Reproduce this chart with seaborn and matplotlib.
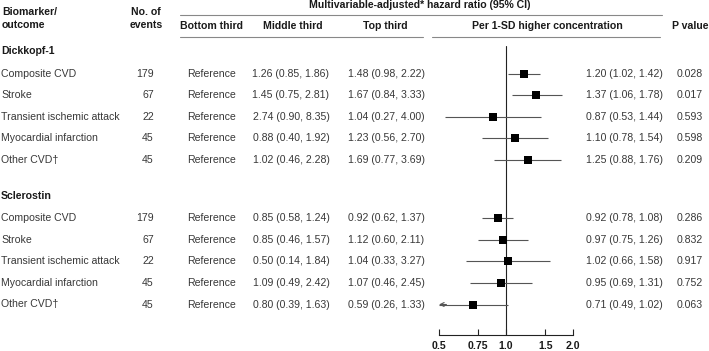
import pandas as pd
import matplotlib.pyplot as plt
from matplotlib.ticker import NullLocator
import seaborn as sns

# Datos de la tabla
biomarkers = ['Dickkopf-1', 'Sclerostin']
outcomes = ['Composite CVD', 'Stroke', 'Transient ischemic attack',
            'Myocardial infarction', 'Other CVD\u2020']
events = [179, 67, 22, 45, 45]

# (HR, lower, upper)
dkk_middle = [(1.26, 0.85, 1.86), (1.45, 0.75, 2.81), (2.74, 0.90, 8.35),
              (0.88, 0.40, 1.92), (1.02, 0.46, 2.28)]
dkk_top = [(1.48, 0.98, 2.22), (1.67, 0.84, 3.33), (1.04, 0.27, 4.00),
           (1.23, 0.56, 2.70), (1.69, 0.77, 3.69)]
dkk_sd = [(1.20, 1.02, 1.42), (1.37, 1.06, 1.78), (0.87, 0.53, 1.44),
          (1.10, 0.78, 1.54), (1.25, 0.88, 1.76)]
dkk_p = ['0.028', '0.017', '0.593', '0.598', '0.209']

scl_middle = [(0.85, 0.58, 1.24), (0.85, 0.46, 1.57), (0.50, 0.14, 1.84),
              (1.09, 0.49, 2.42), (0.80, 0.39, 1.63)]
scl_top = [(0.92, 0.62, 1.37), (1.12, 0.60, 2.11), (1.04, 0.33, 3.27),
           (1.07, 0.46, 2.45), (0.59, 0.26, 1.33)]
scl_sd = [(0.92, 0.78, 1.08), (0.97, 0.75, 1.26), (1.02, 0.66, 1.58),
          (0.95, 0.69, 1.31), (0.71, 0.49, 1.02)]
scl_p = ['0.286', '0.832', '0.917', '0.752', '0.063']

x_ticks = [0.5, 0.75, 1.0, 1.5, 2.0]
x_ticklabels = ['0.5', '0.75', '1.0', '1.5', '2.0']

sns.set_style('white')
plt.rcParams['font.family'] = ['Liberation Sans', 'DejaVu Sans']

W, H = 709, 351
fig = plt.figure(figsize=(W / 100, H / 100), dpi=100)
bg = fig.add_axes([0, 0, 1, 1])
bg.set_xlim(0, W)
bg.set_ylim(H, 0)
bg.axis('off')

txt = '#383838'
bold = '#1a1a1a'
fs = 7.6

def fmt(t):
    return f'{t[0]:.2f} ({t[1]:.2f}, {t[2]:.2f})'

# Posiciones de filas (pixeles desde arriba)
group_head = [51.5, 196]
step = 21.6

rows = []
groups = [(dkk_middle, dkk_top, dkk_sd, dkk_p), (scl_middle, scl_top, scl_sd, scl_p)]
for g, (mid, top, sd, pv) in enumerate(groups):
    bg.text(1, group_head[g], biomarkers[g], fontsize=fs, fontweight='bold',
            color=bold, va='center', ha='left')
    for i, out in enumerate(outcomes):
        y = group_head[g] + step * (i + 1) + 0.5
        bg.text(1, y, out, fontsize=fs, color=txt, va='center', ha='left')
        bg.text(154, y, str(events[i]), fontsize=fs, color=txt, va='center', ha='right')
        bg.text(212, y, 'Reference', fontsize=fs, color=txt, va='center', ha='center')
        bg.text(291, y, fmt(mid[i]), fontsize=fs, color=txt, va='center', ha='center')
        bg.text(386, y, fmt(top[i]), fontsize=fs, color=txt, va='center', ha='center')
        bg.text(624, y, fmt(sd[i]), fontsize=fs, color=txt, va='center', ha='center')
        bg.text(676.5, y, pv[i], fontsize=fs, color=txt, va='center', ha='left')
        rows.append({'biomarker': biomarkers[g], 'outcome': out, 'y': y,
                     'hr': sd[i][0], 'lo': sd[i][1], 'hi': sd[i][2]})

df = pd.DataFrame(rows)

# Encabezados
hb = dict(fontsize=fs, fontweight='bold', color=bold, va='center')
bg.text(2, 12, 'Biomarker/', ha='left', **hb)
bg.text(2, 25, 'outcome', ha='left', **hb)
bg.text(146, 12, 'No. of', ha='center', **hb)
bg.text(146, 25, 'events', ha='center', **hb)
bg.text(420, 5, 'Multivariable-adjusted* hazard ratio (95% CI)', ha='center', **hb)
bg.text(212, 26, 'Bottom third', ha='center', **hb)
bg.text(293, 26, 'Middle third', ha='center', **hb)
bg.text(385, 26, 'Top third', ha='center', **hb)
bg.text(547, 26, 'Per 1-SD higher concentration', ha='center', **hb)
bg.text(708, 26, 'P value', ha='right', **hb)

lc = '#888888'
bg.plot([180, 662], [15, 15], color=lc, lw=0.8)
bg.plot([180, 423], [37, 37], color=lc, lw=0.8)
bg.plot([432, 660], [37, 37], color=lc, lw=0.8)

# Forest plot
x0, x1 = 439, 573
y_top, y_bot = 46, 334.5
ax = fig.add_axes([x0 / W, 1 - y_bot / H, (x1 - x0) / W, (y_bot - y_top) / H])
ax.patch.set_visible(False)
ax.set_xscale('log')
xmin, xmax = 0.5, 2.0

df['lo_c'] = df['lo'].clip(lower=xmin)
ax.hlines(df['y'], df['lo_c'], df['hi'], color='#555555', lw=0.8, zorder=2)
for _, r in df[df['lo'] < xmin].iterrows():
    ax.annotate('', xy=(xmin, r['y']), xytext=(xmin * 1.08, r['y']),
                arrowprops=dict(arrowstyle='->', color='#555555', lw=0.8,
                                shrinkA=0, shrinkB=0, mutation_scale=7),
                annotation_clip=False)
sns.scatterplot(data=df, x='hr', y='y', marker='s', s=30, color='black',
                linewidth=0, ax=ax, zorder=3)
ax.axvline(1.0, color='#222222', lw=0.8, zorder=1)

ax.set_xlim(xmin, xmax)
ax.set_ylim(y_bot, y_top)
ax.set_xlabel('')
ax.set_ylabel('')
ax.set_yticks([])
ax.set_xticks(x_ticks)
ax.set_xticklabels(x_ticklabels, fontweight='bold', color=bold)
ax.xaxis.set_minor_locator(NullLocator())
ax.tick_params(axis='x', direction='in', length=4, width=0.8, pad=4.5,
               labelsize=fs, colors='#222222', labelcolor=bold, bottom=True)
for s in ['top', 'left', 'right']:
    ax.spines[s].set_visible(False)
ax.spines['bottom'].set_color('#222222')
ax.spines['bottom'].set_linewidth(0.8)

fig.savefig('out.png', dpi=100)
